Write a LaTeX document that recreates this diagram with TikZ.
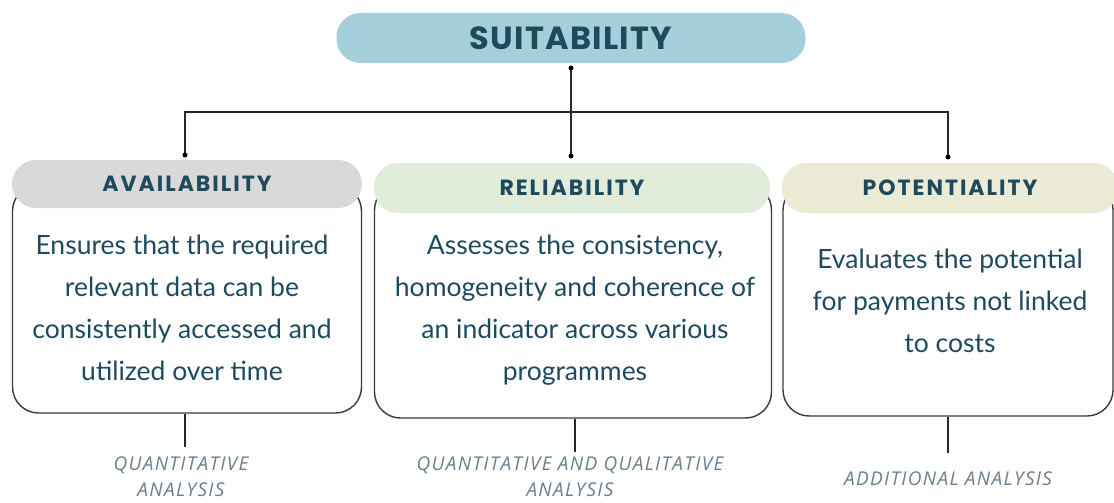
\documentclass[tikz,border=0pt]{standalone}
\usepackage{fontspec}
\setmainfont{Lato}
\newfontfamily\headfont{Poppins}[LetterSpace=9]
\newfontfamily\topfont{Poppins}[LetterSpace=4]
\newfontfamily\notefont{Open Sans}[LetterSpace=7]
\usetikzlibrary{positioning}
\definecolor{pillblue}{HTML}{A6CFDC}
\definecolor{pillgray}{HTML}{D9D9D9}
\definecolor{pillgreen}{HTML}{E2ECDA}
\definecolor{pillbeige}{HTML}{EBEBD6}
\definecolor{textteal}{HTML}{1E4A5E}
\definecolor{notegray}{HTML}{6A7E8E}
\definecolor{edgegray}{HTML}{3A3A3A}
\tikzset{
  pill/.style={draw=none, rounded corners=24pt, inner sep=0pt, text=textteal},
  bodybox/.style={draw=edgegray, line width=1.4pt, rounded corners=26pt, fill=white, inner sep=0pt},
  bodytext/.style={text=textteal, align=center, font=\fontsize{26.5}{42}\selectfont},
  headtext/.style={font=\headfont\bfseries\fontsize{22}{24}\selectfont},
  note/.style={text=notegray, align=center, font=\notefont\itshape\fontsize{19}{26}\selectfont},
  link/.style={draw=black!85, line width=1.2pt},
  dotmark/.style={circle, fill=black, inner sep=0pt, minimum size=5pt},
}
\begin{document}
\begin{tikzpicture}[x=1pt, y=-1pt]
\useasboundingbox (0,0) rectangle (1114,503);
% bodies
\node[bodybox, minimum width=349pt, minimum height=228pt] (b1) at (187,299) {};
\node[bodybox, minimum width=397pt, minimum height=234pt] (b2) at (573,301) {};
\node[bodybox, minimum width=330pt, minimum height=232pt] (b3) at (948,300) {};
% headers
\node[pill, fill=pillblue, minimum width=469pt, minimum height=50pt,
  font=\topfont\bfseries\fontsize{32}{34}\selectfont] (top) at (571,38) {SUITABILITY};
\node[pill, headtext, fill=pillgray, minimum width=350pt, minimum height=48pt] (h1) at (187,184)
  {AVAILABILITY};
\node[pill, headtext, fill=pillgreen, minimum width=396pt, minimum height=50pt] (h2) at (572,188)
  {RELIABILITY};
\node[pill, headtext, fill=pillbeige, minimum width=336pt, minimum height=50pt] (h3) at (950,188)
  {POTENTIALITY};
% body texts
\node[bodytext] (t1) at (182,308) {Ensures that the required\\relevant data can be\\consistently accessed and\\utilized over time};
\node[bodytext] (t2) at (575,310) {Assesses the consistency,\\homogeneity and coherence of\\an indicator across various\\programmes};
\node[bodytext] (t3) at (950,301) {Evaluates the potential\\for payments not linked\\to costs};
% connectors
\coordinate (d0) at (571,68);
\coordinate (j) at (571,112);
\coordinate (d1) at (185,155);
\coordinate (d2) at (571,156);
\coordinate (d3) at (948,157);
\draw[link] (d0) -- (j);
\draw[link] (d1) -- (d1 |- j) -- (j -| d3) -- (d3);
\draw[link] (j) -- (d2);
\node[dotmark] at (d0) {};
\node[dotmark] at (d1) {};
\node[dotmark] at (d2) {};
\node[dotmark] at (d3) {};
% notes
\coordinate (e1) at (185,447);
\coordinate (e2) at (575,452);
\coordinate (e3) at (948,453);
\draw[link] (b1.south -| e1) -- (e1);
\draw[link] (b2.south -| e2) -- (e2);
\draw[link] (b3.south -| e3) -- (e3);
\node[note] (n1) at (181,477) {QUANTITATIVE\\ANALYSIS};
\node[note] (n2) at (570,477) {QUANTITATIVE AND QUALITATIVE\\ANALYSIS};
\node[note] (n3) at (948,479) {ADDITIONAL ANALYSIS};
\end{tikzpicture}
\end{document}
